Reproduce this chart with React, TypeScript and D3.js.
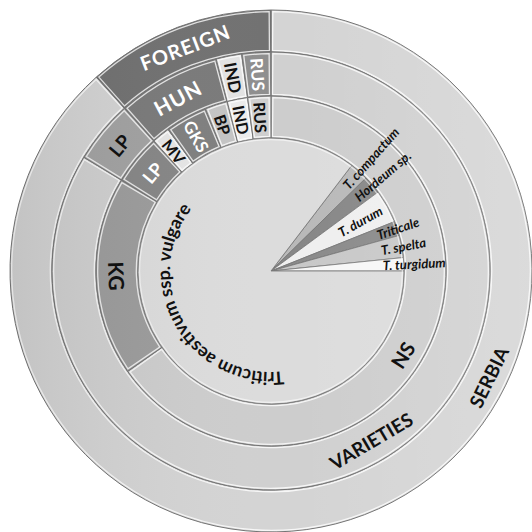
import React from 'react';
import * as d3 from 'd3';

// ---------- data ----------
// outer hierarchy: region -> group -> source (leaf shares of the circle)
const regionNames = ['SERBIA', 'FOREIGN'];
const groupNames = ['VARIETIES', 'LP', 'HUN', 'IND', 'RUS'];
const groupRegion = ['SERBIA', 'SERBIA', 'FOREIGN', 'FOREIGN', 'FOREIGN'];
const leafNames = ['NS', 'KG', 'LP', 'MV', 'GKS', 'BP', 'IND', 'RUS'];
const leafGroup = ['VARIETIES', 'VARIETIES', 'LP', 'HUN', 'HUN', 'HUN', 'IND', 'RUS'];
const leafValues = [235, 66.3, 16.7, 6, 14, 7.5, 6.8, 7.7];

// inner pie: species
const speciesNames = ['T. compactum', 'Hordeum sp.', 'T. durum', 'Triticale', 'T. spelta', 'T. turgidum', 'Triticum aestivum ssp. vulgare'];
const speciesValues = [8.2, 8, 14.6, 6.3, 9.7, 5.8, 307.4];

// ---------- layout / style ----------
const W = 532;
const CX = 271;
const CY = 271;
const R_PIE = 133;
const RING: Record<number, [number, number]> = {
  3: [133, 175],
  2: [175, 219],
  1: [219, 261],
};
const SPECIES_START_DEG = 37.4;
const FONT = 'Lato, "Open Sans", "DejaVu Sans", sans-serif';

const fills: Record<string, string> = {
  '1-SERBIA': '#d4d4d4',
  '1-FOREIGN': '#717171',
  '2-VARIETIES': '#d0d0d0',
  '2-LP': '#a2a2a2',
  '2-HUN': '#7a7a7a',
  '2-IND': '#e3e3e3',
  '2-RUS': '#8e8e8e',
  '3-NS': '#cdcdcd',
  '3-KG': '#9c9c9c',
  '3-LP': '#868686',
  '3-MV': '#e6e6e6',
  '3-GKS': '#7f7f7f',
  '3-BP': '#c4c4c4',
  '3-IND': '#ececec',
  '3-RUS': '#cfcfcf',
};
const speciesFills: Record<string, string> = {
  'T. compactum': '#b9b9b9',
  'Hordeum sp.': '#878787',
  'T. durum': '#efefef',
  'Triticale': '#8a8a8a',
  'T. spelta': '#c8c8c8',
  'T. turgidum': '#f7f7f7',
  'Triticum aestivum ssp. vulgare': '#dcdcdc',
};

type LabelSpec = { size: number; color: string; mode: 'tan' | 'rad'; angle?: number; r?: number; ls?: number };
const labelSpecs: Record<string, LabelSpec> = {
  '1-SERBIA': { size: 19, color: '#111', mode: 'tan', angle: 116, r: 242 },
  '1-FOREIGN': { size: 20, color: '#fff', mode: 'tan', ls: 1 },
  '2-VARIETIES': { size: 19, color: '#111', mode: 'tan', angle: 149.5, r: 197 },
  '2-LP': { size: 19, color: '#111', mode: 'tan' },
  '2-HUN': { size: 21, color: '#fff', mode: 'tan', ls: 1 },
  '2-IND': { size: 17, color: '#111', mode: 'rad' },
  '2-RUS': { size: 17, color: '#fff', mode: 'rad' },
  '3-NS': { size: 20, color: '#111', mode: 'tan', angle: 122.5, r: 156 },
  '3-KG': { size: 21, color: '#111', mode: 'tan' },
  '3-LP': { size: 18, color: '#fff', mode: 'tan' },
  '3-MV': { size: 16, color: '#111', mode: 'rad' },
  '3-GKS': { size: 17, color: '#fff', mode: 'rad' },
  '3-BP': { size: 16, color: '#111', mode: 'rad' },
  '3-IND': { size: 16, color: '#111', mode: 'rad' },
  '3-RUS': { size: 16, color: '#111', mode: 'rad' },
};
const speciesLabelR: Record<string, number> = {
  'T. durum': 78,
};

const deg = (rad: number) => (rad * 180) / Math.PI;
const rad = (d: number) => (d * Math.PI) / 180;
const polar = (r: number, aDeg: number) => [CX + r * Math.sin(rad(aDeg)), CY - r * Math.cos(rad(aDeg))];

function buildTree() {
  return {
    name: 'root',
    children: regionNames.map((rn) => ({
      name: rn,
      children: groupNames
        .filter((g, i) => groupRegion[i] === rn)
        .map((gn) => ({
          name: gn,
          children: leafNames
            .map((ln, i) => ({ name: ln, value: leafValues[i], g: leafGroup[i] }))
            .filter((l) => l.g === gn),
        })),
    })),
  };
}

export default function App() {
  const root = d3.hierarchy<any>(buildTree()).sum((d: any) => d.value || 0);
  const part = d3.partition<any>().size([2 * Math.PI, 1])(root);
  const nodes = part.descendants().filter((d) => d.depth > 0);

  const arcGen = d3.arc<any>();
  const pie = d3
    .pie<number>()
    .sort(null)
    .value((d) => d)
    .startAngle(rad(SPECIES_START_DEG))
    .endAngle(rad(SPECIES_START_DEG) + 2 * Math.PI);
  const slices = pie(speciesValues);

  const segPath = (x0: number, x1: number, r0: number, r1: number, inset = 0) => {
    const padA = inset / ((r0 + r1) / 2);
    return arcGen({
      innerRadius: r0 === 0 ? 0 : r0 + inset,
      outerRadius: r1 - inset,
      startAngle: x0 + padA,
      endAngle: x1 - padA,
    }) as string;
  };

  // vulgare label path
  const vr = 101;
  const [vx0, vy0] = polar(vr, 173);
  const [vx1, vy1] = polar(vr, 308);
  const vulgarePath = `M${vx0},${vy0} A${vr},${vr} 0 0 1 ${vx1},${vy1}`;
  const vLen = vr * rad(308 - 173);

  return (
    <svg width={W} height={W} viewBox={`0 0 ${W} ${W}`} style={{ display: 'block', position: 'absolute', left: 0, top: 0, background: '#fff' }}>
      <defs>
        <linearGradient id="shade" x1="0" y1="0" x2="1" y2="0">
          <stop offset="0" stopColor="#000" stopOpacity="0.08" />
          <stop offset="0.55" stopColor="#fff" stopOpacity="0" />
          <stop offset="1" stopColor="#fff" stopOpacity="0.16" />
        </linearGradient>
      </defs>

      <g transform={`translate(${CX},${CY})`}>
        {/* rings */}
        {nodes.map((n, i) => {
          const [r0, r1] = RING[n.depth];
          const key = `${n.depth}-${n.data.name}`;
          return (
            <g key={'seg' + i}>
              <path d={segPath(n.x0, n.x1, r0, r1)} fill={fills[key]} stroke="#737373" strokeWidth={1} />
              <path d={segPath(n.x0, n.x1, r0, r1, 1.7)} fill="none" stroke="#fff" strokeOpacity={0.8} strokeWidth={1.3} />
            </g>
          );
        })}
        {/* pie */}
        {slices.map((s, i) => (
          <path
            key={'sl' + i}
            d={segPath(s.startAngle, s.endAngle, 0, R_PIE)}
            fill={speciesFills[speciesNames[i]]}
            stroke="#737373"
            strokeWidth={0.8}
          />
        ))}
        <circle r={R_PIE - 1.6} fill="none" stroke="#fff" strokeOpacity={0.6} strokeWidth={1.2} />
        <circle r={RING[1][1]} fill="url(#shade)" />
      </g>

      {/* ring labels */}
      {nodes.map((n, i) => {
        const key = `${n.depth}-${n.data.name}`;
        const spec = labelSpecs[key];
        if (!spec) return null;
        const [r0, r1] = RING[n.depth];
        const a = spec.angle ?? deg((n.x0 + n.x1) / 2);
        const r = spec.r ?? (r0 + r1) / 2;
        const [x, y] = polar(r, a);
        let rot: number;
        if (spec.mode === 'tan') {
          const an = ((a % 360) + 360) % 360;
          rot = an > 90 && an < 270 ? an - 180 : an;
        } else {
          rot = a + 90;
        }
        return (
          <text
            key={'lb' + i}
            x={x}
            y={y}
            transform={`rotate(${rot},${x},${y})`}
            textAnchor="middle"
            dominantBaseline="central"
            fontFamily={FONT}
            fontWeight={700}
            fontSize={spec.size}
            letterSpacing={spec.ls ?? 0}
            fill={spec.color}
          >
            {n.data.name}
          </text>
        );
      })}

      {/* species labels */}
      {slices.map((s, i) => {
        const name = speciesNames[i];
        if (i === speciesNames.length - 1) return null;
        const a = deg((s.startAngle + s.endAngle) / 2);
        const r = speciesLabelR[name] ?? 112;
        const [x, y] = polar(r, a);
        return (
          <text
            key={'sp' + i}
            x={x}
            y={y}
            transform={`rotate(${a - 90},${x},${y})`}
            textAnchor="start"
            dominantBaseline="central"
            fontFamily={FONT}
            fontStyle="italic"
            fontWeight={700}
            fontSize={13}
            fill="#111"
          >
            {name}
          </text>
        );
      })}
      <path id="vulgareArc" d={vulgarePath} fill="none" stroke="none" />
      <text fontFamily={FONT} fontWeight={700} fontSize={18} fill="#111">
        <textPath href="#vulgareArc" startOffset="0" textLength={vLen} lengthAdjust="spacing">
          {speciesNames[speciesNames.length - 1]}
        </textPath>
      </text>
    </svg>
  );
}
